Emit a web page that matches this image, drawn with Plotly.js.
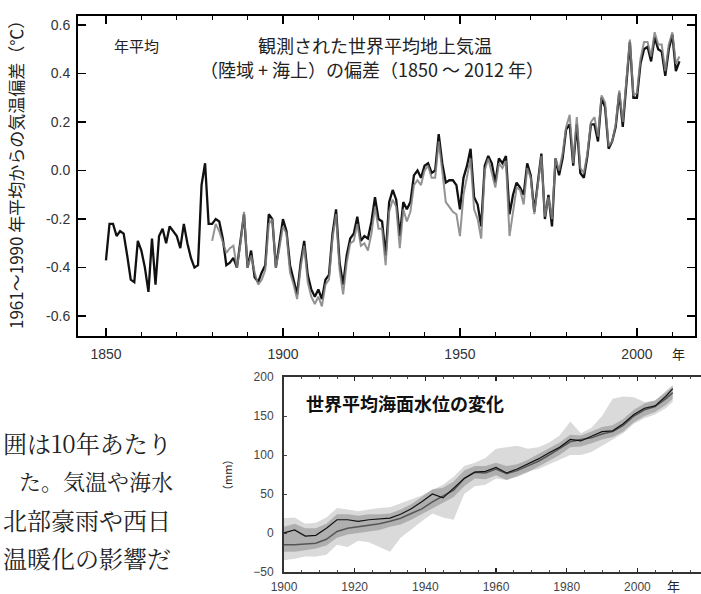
<!DOCTYPE html>
<html>
<head>
<meta charset="utf-8">
<script src="https://cdn.plot.ly/plotly-3.0.1.min.js"></script>
<style>
html,body{margin:0;padding:0;background:#fff;}
#chart{width:701px;height:594px;}
</style>
</head>
<body>
<div id="chart"></div>
<script>
// ---- Top chart: global mean surface temperature anomaly (°C) ----
const tempStartBlack = 1850;
const tempBlack = [
 -0.37,-0.22,-0.22,-0.27,-0.25,-0.26,-0.35,-0.45,-0.46,-0.29,
 -0.33,-0.40,-0.50,-0.28,-0.47,-0.27,-0.24,-0.30,-0.23,-0.25,
 -0.27,-0.32,-0.22,-0.30,-0.36,-0.40,-0.39,-0.06,0.03,-0.22,
 -0.22,-0.20,-0.21,-0.28,-0.39,-0.38,-0.36,-0.40,-0.30,-0.18,
 -0.40,-0.33,-0.44,-0.46,-0.42,-0.39,-0.18,-0.20,-0.40,-0.29,
 -0.20,-0.25,-0.39,-0.45,-0.51,-0.38,-0.29,-0.43,-0.49,-0.52,
 -0.49,-0.53,-0.45,-0.43,-0.26,-0.16,-0.38,-0.47,-0.35,-0.28,
 -0.26,-0.19,-0.29,-0.27,-0.28,-0.21,-0.11,-0.20,-0.21,-0.35,
 -0.13,-0.08,-0.12,-0.27,-0.13,-0.16,-0.13,-0.02,0.00,-0.03,
 0.02,0.03,-0.01,0.00,0.15,0.03,-0.05,-0.04,-0.04,-0.06,
 -0.16,-0.03,0.02,0.09,-0.11,-0.14,-0.23,0.02,0.06,0.03,
 -0.05,0.05,0.03,0.06,-0.18,-0.10,-0.05,-0.07,-0.10,0.03,
 -0.02,-0.17,-0.04,0.07,-0.20,-0.10,-0.23,0.05,-0.02,0.05,
 0.17,0.19,0.02,0.19,-0.01,-0.03,0.06,0.19,0.19,0.12,
 0.30,0.26,0.09,0.12,0.18,0.32,0.18,0.36,0.53,0.30,
 0.30,0.44,0.50,0.51,0.45,0.55,0.50,0.49,0.39,0.50,
 0.56,0.41,0.45
];
const tempStartGray = 1880;
const tempGray = [
 -0.29,-0.22,-0.25,-0.30,-0.34,-0.32,-0.31,-0.40,-0.30,-0.17,
 -0.40,-0.35,-0.42,-0.47,-0.45,-0.41,-0.22,-0.20,-0.40,-0.32,
 -0.23,-0.26,-0.42,-0.47,-0.53,-0.40,-0.31,-0.46,-0.52,-0.55,
 -0.52,-0.56,-0.47,-0.45,-0.28,-0.18,-0.41,-0.51,-0.38,-0.30,
 -0.29,-0.22,-0.31,-0.30,-0.33,-0.26,-0.15,-0.24,-0.24,-0.39,
 -0.17,-0.12,-0.15,-0.32,-0.16,-0.21,-0.17,-0.06,-0.04,-0.06,
 0.00,0.02,-0.03,-0.03,0.12,0.00,-0.13,-0.15,-0.17,-0.18,
 -0.27,-0.10,-0.03,0.05,-0.16,-0.20,-0.28,0.00,0.05,-0.01,
 -0.07,0.03,0.01,0.04,-0.27,-0.17,-0.07,-0.08,-0.14,0.01,
 -0.03,-0.18,-0.05,0.06,-0.19,-0.11,-0.20,0.05,0.00,0.07,
 0.18,0.23,0.03,0.22,0.01,-0.01,0.07,0.20,0.22,0.14,
 0.31,0.28,0.10,0.12,0.19,0.33,0.20,0.38,0.54,0.31,
 0.32,0.46,0.53,0.53,0.47,0.57,0.52,0.52,0.41,0.52,
 0.57,0.44,0.47
];
const tempXTicks = [1850, 1900, 1950, 2000];
const tempYTickVals = [-0.6, -0.4, -0.2, 0.0, 0.2, 0.4, 0.6];
const tempYTickText = ['-0.6', '-0.4', '-0.2', '0.0', '0.2', '0.4', '0.6'];

// ---- Bottom chart: global mean sea level change (mm) ----
const slYears = [1900,1903,1906,1909,1912,1915,1918,1921,1924,1927,1930,1933,1936,1939,1942,1945,1948,1951,1954,1957,1960,1963,1966,1969,1972,1975,1978,1981,1984,1987,1990,1993,1996,1999,2002,2005,2008,2010];
const slBlack = [0,4,-4,-3,6,17,17,15,17,18,19,24,31,40,50,45,58,70,78,79,84,77,82,88,95,103,110,120,118,124,130,131,140,152,160,163,175,185];
const slDark = [-15,-15,-14,-13,-8,2,6,8,10,12,15,19,25,31,40,48,55,70,78,77,82,76,80,86,92,100,108,117,120,122,127,130,138,150,158,162,172,180];
const slInnerUpper = [8,12,6,6,12,24,24,22,24,24,25,30,37,46,56,58,66,80,86,86,90,86,88,94,101,108,116,126,125,130,136,138,146,158,166,170,180,188];
const slInnerLower = [-24,-24,-22,-20,-16,-6,-2,0,2,4,8,11,17,24,32,38,46,60,70,69,74,68,72,78,85,93,100,110,111,115,120,123,130,142,150,155,164,172];
const slOuterUpper = [19,20,12,13,20,32,30,28,30,32,33,38,42,48,55,62,72,86,90,96,108,110,112,108,110,116,125,143,128,135,150,172,175,174,168,170,182,190];
const slOuterLower = [-35,-33,-30,-30,-28,-15,-18,-10,-12,-18,-24,-6,5,15,25,20,17,50,60,62,70,68,74,79,82,88,94,100,100,104,112,120,128,140,147,152,160,168];
const slXTicks = [1900,1920,1940,1960,1980,2000];
const slYTicks = [-50,0,50,100,150,200];

// ---- Texts ----
const textTempLabel = '年平均';
const textTempTitle1 = '観測された世界平均地上気温';
const textTempTitle2 = '（陸域 + 海上）の偏差（1850 ～ 2012 年）';
const textTempYTitle = '1961～1990 年平均からの気温偏差（℃）';
const textYearUnit = '年';
const textSlTitle = '世界平均海面水位の変化';
const textSlYTitle = '（mm）';
const paragraphLines = ['囲は10年あたり', 'た。気温や海水', '北部豪雨や西日', '温暖化の影響だ'];

// ---- Build ----
const W = 701, H = 594;
const px = v => v / W;
const py = v => 1 - v / H;

const yearsBlack = tempBlack.map((_, i) => tempStartBlack + i);
const yearsGray = tempGray.map((_, i) => tempStartGray + i);

const traces = [
  {x: slYears, y: slOuterLower, xaxis: 'x2', yaxis: 'y2', mode: 'lines', line: {width: 0, color: 'rgba(0,0,0,0)'}, hoverinfo: 'skip'},
  {x: slYears, y: slOuterUpper, xaxis: 'x2', yaxis: 'y2', mode: 'lines', fill: 'tonexty', fillcolor: '#dadada', line: {width: 0, color: 'rgba(0,0,0,0)'}, hoverinfo: 'skip'},
  {x: slYears, y: slInnerLower, xaxis: 'x2', yaxis: 'y2', mode: 'lines', line: {width: 0, color: 'rgba(0,0,0,0)'}, hoverinfo: 'skip'},
  {x: slYears, y: slInnerUpper, xaxis: 'x2', yaxis: 'y2', mode: 'lines', fill: 'tonexty', fillcolor: 'rgba(140,140,140,0.55)', line: {width: 0, color: 'rgba(0,0,0,0)'}, hoverinfo: 'skip'},
  {x: slYears, y: slDark, xaxis: 'x2', yaxis: 'y2', mode: 'lines', line: {width: 1.5, color: '#555'}},
  {x: slYears, y: slBlack, xaxis: 'x2', yaxis: 'y2', mode: 'lines', line: {width: 1.2, color: '#111'}},
  {x: yearsBlack, y: tempBlack, xaxis: 'x', yaxis: 'y', mode: 'lines', line: {width: 2.3, color: '#111'}},
  {x: yearsGray, y: tempGray, xaxis: 'x', yaxis: 'y', mode: 'lines', line: {width: 2, color: 'rgba(128,128,128,0.85)'}}
];

const tickFont = {family: 'Liberation Sans, Arial, sans-serif', size: 14, color: '#333'};
const smallTickFont = {family: 'Liberation Sans, Arial, sans-serif', size: 12, color: '#444'};
const jp = 'Noto Sans CJK JP, sans-serif';
const jpSerif = 'Noto Serif CJK JP, Noto Sans CJK JP, serif';

function ann(text, x, y, size, extra) {
  return Object.assign({
    text: text, xref: 'paper', yref: 'paper', x: px(x), y: py(y),
    xanchor: 'center', yanchor: 'middle', showarrow: false,
    font: {family: jp, size: size, color: '#222'}
  }, extra || {});
}

const annotations = [
  ann(textTempLabel, 136, 45, 15),
  ann(textTempTitle1, 375, 45, 18),
  ann(textTempTitle2, 372, 69, 18),
  ann(textYearUnit, 678, 353, 13),
  ann(textTempYTitle, 16, 171, 17, {textangle: -90}),
  ann(textSlTitle, 405, 403, 18, {font: {family: jp, size: 18, color: '#111', weight: 'bold'}}),
  ann(textSlYTitle, 227, 475, 11, {textangle: -90}),
  ann(textYearUnit, 673, 585, 13)
];
const paraY = [442, 480, 519, 557];
const paraX = [1, 175, 1, 1];
const paraAnchor = ['left', 'right', 'left', 'left'];
const paraSize = [24, 22, 24, 24];
paragraphLines.forEach((t, i) => {
  annotations.push(ann(t, paraX[i], paraY[i], paraSize[i], {xanchor: paraAnchor[i], font: {family: jpSerif, size: paraSize[i], color: '#222'}}));
});

const layout = {
  width: W, height: H,
  margin: {l: 0, r: 0, t: 0, b: 0},
  paper_bgcolor: '#fff', plot_bgcolor: 'rgba(0,0,0,0)',
  showlegend: false,
  xaxis: {
    domain: [px(78), px(695)], range: [1842.1, 2016.4], anchor: 'y',
    tickvals: tempXTicks, ticks: 'inside', ticklen: 8, tickwidth: 1.5, tickcolor: '#000',
    showline: true, linewidth: 2, linecolor: '#000', mirror: 'allticks',
    showgrid: false, zeroline: false, tickfont: tickFont, ticklabelstandoff: 4,
    minor: {dtick: 10, tick0: 1850, ticks: 'inside', ticklen: 4, tickwidth: 1.2, tickcolor: '#000', showgrid: false}
  },
  yaxis: {
    domain: [py(336), py(16)], range: [-0.682, 0.637], anchor: 'x',
    tickvals: tempYTickVals, ticktext: tempYTickText,
    ticks: 'inside', ticklen: 8, tickwidth: 1.5, tickcolor: '#000',
    showline: true, linewidth: 2, linecolor: '#000', mirror: 'allticks',
    showgrid: false, zeroline: false, tickfont: tickFont, ticklabelstandoff: 3
  },
  xaxis2: {
    domain: [px(284), 1], range: [1900, 2018], anchor: 'y2',
    tickvals: slXTicks, ticks: 'inside', ticklen: 4, tickwidth: 1.2, tickcolor: '#222',
    showline: true, linewidth: 2, linecolor: '#333', mirror: 'allticks',
    showgrid: false, zeroline: false, tickfont: smallTickFont, ticklabelstandoff: 3,
    minor: {dtick: 5, tick0: 1900, ticks: 'inside', ticklen: 2, tickwidth: 1, tickcolor: '#444', showgrid: false}
  },
  yaxis2: {
    domain: [py(572), py(377)], range: [-50, 200], anchor: 'x2',
    tickvals: slYTicks, ticks: 'inside', ticklen: 3, tickwidth: 1, tickcolor: '#444',
    showline: true, linewidth: 2, linecolor: '#333', mirror: false,
    showgrid: false, zeroline: false, tickfont: smallTickFont, ticklabelstandoff: 6
  },
  annotations: annotations
};

Plotly.newPlot('chart', traces, layout, {staticPlot: true, displayModeBar: false});
</script>
</body>
</html>
